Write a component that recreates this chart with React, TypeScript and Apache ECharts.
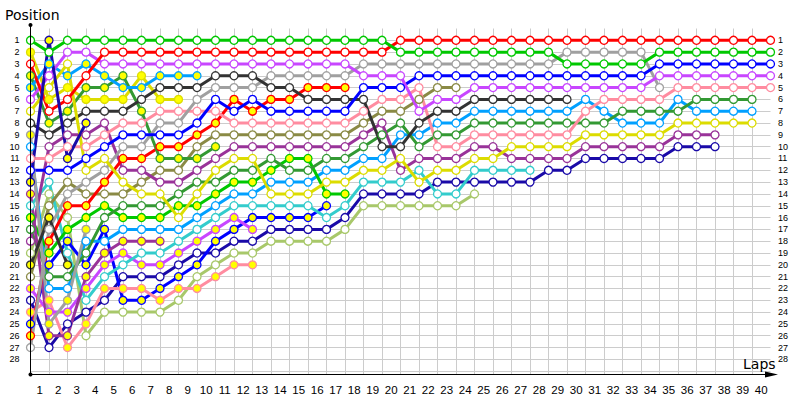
import React, { useEffect, useRef } from 'react';
import * as echarts from 'echarts';

// Tick labels
const LAP_LABELS = ['1','2','3','4','5','6','7','8','9','10','11','12','13','14','15','16','17','18','19','20','21','22','23','24','25','26','27','28','29','30','31','32','33','34','35','36','37','38','39','40'];
const POSITION_MAX_LABEL = 28;

// Positions per lap (index 0 = grid/start, index k = lap k)
const GREEN_W = [1,2,1,1,1,1,1,1,1,1,1,1,1,1,1,1,1,1,1,1,2,2,2,2,2,2,2,2,2,3,3,3,3,3,2,2,2,2,2,2,2];
const RED_W = [3,7,6,4,2,2,2,2,2,2,2,2,2,2,2,2,2,2,2,2,1,1,1,1,1,1,1,1,1,1,1,1,1,1,1,1,1,1,1,1,1];
const VIOLET_W = [6,4,2,2,3,3,3,3,3,3,3,3,3,3,3,3,3,3,4,4,4,7,6,6,5,5,5,5,5,5,5,5,5,5,4,4,4,4,4,4,4];
const YELLOW_Y = [2,6,5,6,6,6,4,6,6];
const YELLOW_W = [7,5,3,12,11,13,14,14,16,14,12,11,11,14,14,14,13,13,12,12,11,13,12,12,11,11,10,10,10,10,9,9,9,9,9,8,8,8,8,8];
const DKGREEN_Y = [4,8,7,5,5,4,7,11,11,11,10];
const LBLUE_Y = [5,3,4,3,4,5,5,4,4,4];
const BLACK_W = [8,9,8,7,7,7,6,5,5,5,4,4,4,5,5,6,6,6,6,10,10,8,7,7,6,6,6,6,6,6];
const GRAY_Y = [9,25,23,17];
const GRAY_W = [27,17,14,13,12,10,10,8,8,6,5,5,5,4,4,4,4,4,3,3,3,3,3,3,3,3,3,3,3,2,2,2,2,2,5];
const PINK_W = [11,11,10,10,9,8,8,7,7,7,7,8,8,8,8,8,8,8,7,6,6,5,10,10,9,9,9,9,9,9,7,6,6,6,6,5,5,5,5,5,5];
const BLUE_W = [12,12,12,11,10,9,9,9,9,8,6,7,6,7,7,7,7,7,5,5,5,4,4,4,4,4,4,4,4,4,4,4,4,4,3,3,3,3,3,3,3];
const NAVY_Y = [13,1,11,8];
const DKPURPLE_Y = [14,26,26,21,19,18,18,18];
const CYAN_W = [15,13,19,23,21,20,19,19,18,17,16,15,15,15,15,15,16,15,13,13,13,12,14,14,12,12,12,12];
const GREEN_Y = [16,19,17,16,15,16,16,16,15,15,14,13,13,12,11,11,14,14];
const DKGREEN_W = [17,21,21,19,16,15,15,15,14,13,13,12,12,11,12,12,11,11,10,9,8,10,9,9,8,8,8,8,8,8,8,8,7,7,7,7,6,6,6,6];
const DKPURPLE_W = [18,10,9,9,8,12,12,13,13,12,11,10,10,10,10,10,10,10,9,8,12,11,11,11,10,10,11,11,11,11,10,10,10,10,10,9,9,9];
const LTGREEN_W = [19,14,16,26,24,24,24,24,23,21,20,19,19,18,18,18,18,17,15,15,15,15,15,15,14];
const BLACK_Y = [20,16,20];
const OLIVE_W = [21,15,13,14,14,14,13,12,12,10,9,9,9,9,9,9,9,9,8,7,7,6,5,5];
const VIOLET_Y = [22,24,24,22,20,19,20,20,19,18,17,16,17];
const NAVY_W = [23,27,25,24,23,21,21,21,20,19,19,18,18,17,17,17,17,16,14,14,14,14,13,13,13,13,13,13,12,12,11,11,11,11,11,10,10,10];
const PINK_Y = [24,23,27,25,22,22,22,23,22,22,21,20,20];
const BLUE_Y = [25,20,18,20,17,23,23,22,21,20,18,17,16,16,16,16,15];
const RED_Y = [26,18,15,15,13,11,11,10,10,9,8,6,7,6,6,5,5,5];
const LBLUE_W = [10,22,22,18,18,17,17,17,17,16,15,14,14,13,13,13,12,12,11,11,9,9,8,8,7,7,7,7,7,7,6,7,8,8,8,6,7,7,7,7];

// Team colours
const C = {
  green: '#00c800', red: '#ff0000', violet: '#c846ff', lblue: '#00a0ff', black: '#333333',
  yellow: '#dcdc00', dkgreen: '#339933', pink: '#ff8ca0', gray: '#a0a0a0', blue: '#0000ff',
  olive: '#8a8a45', dkpurple: '#993399', cyan: '#33cccc', ltgreen: '#a8c86a', navy: '#1a0aa8',
};
const WHITE = '#ffffff';
const YEL = '#ffff00';

const DRIVERS: { data: number[]; color: string; fill: string }[] = [
  { data: LTGREEN_W, color: C.ltgreen, fill: WHITE },
  { data: NAVY_W, color: C.navy, fill: WHITE },
  { data: BLUE_Y, color: C.blue, fill: YEL },
  { data: PINK_Y, color: C.pink, fill: YEL },
  { data: VIOLET_Y, color: C.violet, fill: YEL },
  { data: CYAN_W, color: C.cyan, fill: WHITE },
  { data: LBLUE_W, color: C.lblue, fill: WHITE },
  { data: GREEN_Y, color: C.green, fill: YEL },
  { data: DKGREEN_W, color: C.dkgreen, fill: WHITE },
  { data: DKPURPLE_Y, color: C.dkpurple, fill: YEL },
  { data: YELLOW_Y, color: C.yellow, fill: YEL },
  { data: OLIVE_W, color: C.olive, fill: WHITE },
  { data: DKPURPLE_W, color: C.dkpurple, fill: WHITE },
  { data: RED_Y, color: C.red, fill: YEL },
  { data: DKGREEN_Y, color: C.dkgreen, fill: YEL },
  { data: PINK_W, color: C.pink, fill: WHITE },
  { data: GRAY_W, color: C.gray, fill: WHITE },
  { data: BLACK_W, color: C.black, fill: WHITE },
  { data: BLUE_W, color: C.blue, fill: WHITE },
  { data: LBLUE_Y, color: C.lblue, fill: YEL },
  { data: YELLOW_W, color: C.yellow, fill: WHITE },
  { data: VIOLET_W, color: C.violet, fill: WHITE },
  { data: GRAY_Y, color: C.gray, fill: YEL },
  { data: BLACK_Y, color: C.black, fill: YEL },
  { data: RED_W, color: C.red, fill: WHITE },
  { data: GREEN_W, color: C.green, fill: WHITE },
  { data: NAVY_Y, color: C.navy, fill: YEL },
];

export default function App() {
  const ref = useRef<HTMLDivElement>(null);
  useEffect(() => {
    document.body.style.margin = '0';
    const chart = echarts.init(ref.current!, undefined, { renderer: 'svg' });
    const gridLine = { show: true, lineStyle: { color: '#cccccc', width: 1 }, showMinLine: false, showMaxLine: false };
    const sideLabel = (v: number) => (Number.isInteger(v) && v >= 1 && v <= POSITION_MAX_LABEL ? String(v) : '');
    const yMax = 29.28;
    chart.setOption({
      animation: false,
      grid: { left: 30.5, right: 29.5, top: 28.5, bottom: 25.5, containLabel: false },
      xAxis: [
        { type: 'value', min: 0, max: 40, interval: 1, axisLine: { show: false }, axisTick: { show: false }, axisLabel: { show: false }, splitLine: gridLine },
        { type: 'category', data: LAP_LABELS, boundaryGap: true, position: 'bottom', axisLine: { show: false }, axisTick: { show: false }, splitLine: { show: false },
          axisLabel: { margin: 9, fontSize: 11.5, color: '#000', fontFamily: 'Liberation Sans', interval: 0 } },
      ],
      yAxis: [
        { type: 'value', inverse: true, min: 0, max: yMax, interval: 1, axisLine: { show: false }, axisTick: { show: false }, splitLine: gridLine,
          axisLabel: { formatter: sideLabel, margin: 11, fontSize: 9, color: '#000', fontFamily: 'Liberation Sans' } },
        { type: 'value', inverse: true, min: 0, max: yMax, interval: 1, position: 'right', axisLine: { show: false }, axisTick: { show: false }, splitLine: { show: false },
          axisLabel: { formatter: sideLabel, margin: 7.5, fontSize: 9, color: '#000', fontFamily: 'Liberation Sans' } },
      ],
      series: DRIVERS.map((d) => ({
        type: 'line',
        xAxisIndex: 0,
        yAxisIndex: 0,
        data: d.data.map((p, i) => [i, p]),
        symbol: 'circle',
        symbolSize: 8,
        showSymbol: true,
        showAllSymbol: true,
        silent: true,
        lineStyle: { color: d.color, width: 3 },
        itemStyle: { color: d.fill, borderColor: d.color, borderWidth: 1.3 },
        emphasis: { disabled: true },
      })),
      graphic: [
        { type: 'line', shape: { x1: 30.5, y1: 25, x2: 30.5, y2: 374.5 }, style: { stroke: '#000', lineWidth: 1 }, z: 100 },
        { type: 'line', shape: { x1: 30.5, y1: 374.5, x2: 768, y2: 374.5 }, style: { stroke: '#000', lineWidth: 1 }, z: 100 },
        { type: 'polygon', shape: { points: [[765, 371.5], [778, 374.5], [765, 377.5]] }, style: { fill: '#000' }, z: 100 },
        { type: 'circle', shape: { cx: 30.5, cy: 25, r: 2 }, style: { fill: '#000' }, z: 100 },
        { type: 'circle', shape: { cx: 30.5, cy: 374.5, r: 2 }, style: { fill: '#000' }, z: 100 },
        { type: 'text', x: 5, y: 15, style: { text: 'Position', font: '14px "DejaVu Sans"', fill: '#000', verticalAlign: 'middle' }, z: 100 },
        { type: 'text', x: 743, y: 364, style: { text: 'Laps', font: '14px "DejaVu Sans"', fill: '#000', verticalAlign: 'middle' }, z: 100 },
      ],
    });
    return () => chart.dispose();
  }, []);
  return <div ref={ref} style={{ width: 800, height: 400 }} />;
}
